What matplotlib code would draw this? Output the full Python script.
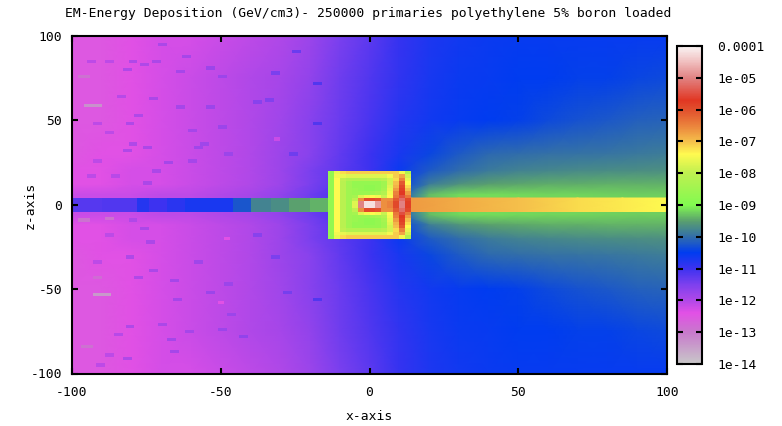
import numpy as np
import matplotlib
matplotlib.use("Agg")
import matplotlib.pyplot as plt
from matplotlib.colors import LinearSegmentedColormap

plt.rcParams['font.family'] = ['DejaVu Sans Mono']
plt.rcParams['font.size'] = 9.4

# all values are log10(GeV/cm3)

# background, upper half (mirrored around z=0)
bg_x = np.arange(-100, 101, 10)
bg_z = [100, 75, 50, 30, 20, 12, 6]
bg_100 = [-12.5, -12.5, -12.4, -12.3, -12.3, -12.2, -12.1, -12.0, -11.8, -11.5, -11.25, -10.95, -10.75, -10.65, -10.6, -10.55, -10.55, -10.55, -10.55, -10.55, -10.55]
bg_75 = [-12.5, -12.5, -12.4, -12.3, -12.2, -12.1, -12.0, -11.9, -11.7, -11.4, -11.15, -10.9, -10.7, -10.6, -10.55, -10.5, -10.5, -10.45, -10.45, -10.4, -10.35]
bg_50 = [-12.5, -12.5, -12.4, -12.3, -12.2, -12.1, -12.0, -11.85, -11.6, -11.35, -11.1, -10.8, -10.65, -10.55, -10.5, -10.45, -10.35, -10.28, -10.22, -10.15, -10.1]
bg_30 = [-12.5, -12.4, -12.4, -12.3, -12.2, -12.1, -12.0, -11.8, -11.6, -11.3, -11.0, -10.7, -10.4, -10.2, -10.05, -10.0, -9.97, -9.95, -9.92, -9.88, -9.85]
bg_20 = [-12.4, -12.4, -12.3, -12.3, -12.2, -12.1, -12.0, -11.8, -11.5, -11.25, -11.0, -10.6, -10.2, -10.0, -9.87, -9.8, -9.75, -9.72, -9.7, -9.68, -9.65]
bg_12 = [-12.4, -12.4, -12.3, -12.3, -12.2, -12.1, -12.0, -11.8, -11.5, -11.2, -10.9, -10.5, -9.85, -9.62, -9.5, -9.45, -9.42, -9.42, -9.4, -9.4, -9.4]
bg_6 = [-12.2, -12.2, -12.2, -12.1, -12.1, -12.0, -11.9, -11.7, -11.4, -11.1, -10.8, -10.3, -9.35, -9.18, -9.17, -9.18, -9.2, -9.2, -9.22, -9.25, -9.25]

# beam left of the box
beam_left_edges = [-100, -90, -78, -74, -68, -62, -46, -40, -33, -27, -20, -14]
beam_left = [-11.2, -11.15, -10.8, -11.0, -10.85, -10.7, -10.25, -9.8, -9.7, -9.5, -9.4]

# beam right of the box
beam_right_x = [14, 30, 50, 70, 85, 100]
beam_right = [-6.7, -6.85, -7.0, -7.2, -7.3, -7.4]

# box, upper half, top row first
box_edges_x = np.arange(-14, 15, 2)
box_edges_z = np.arange(-20, 21, 2)
box_rows = [
    [-8.7, -7.6, -7.2, -7.1, -7.1, -7.1, -7.1, -7.1, -7.1, -7.1, -7.1, -7.1, -7.5, -8.2],
    [-8.7, -7.5, -7.6, -7.7, -7.7, -7.7, -7.7, -7.7, -7.7, -7.7, -7.5, -7.1, -6.8, -7.8],
    [-8.7, -7.4, -8.0, -8.2, -8.2, -8.2, -8.2, -8.2, -8.2, -8.1, -7.8, -7.2, -6.5, -7.6],
    [-8.7, -7.4, -8.1, -8.5, -8.7, -8.7, -8.7, -8.7, -8.7, -8.5, -7.8, -7.0, -6.1, -7.4],
    [-8.7, -7.4, -8.1, -8.5, -8.7, -8.7, -8.8, -8.8, -8.7, -8.5, -7.7, -6.9, -5.9, -7.2],
    [-8.7, -7.4, -8.1, -8.5, -8.6, -8.7, -8.8, -8.8, -8.7, -8.4, -7.6, -6.7, -5.8, -7.0],
    [-8.7, -7.4, -8.1, -8.5, -8.6, -8.6, -8.6, -8.5, -8.4, -8.2, -7.5, -6.5, -5.7, -6.7],
    [-8.7, -7.4, -8.1, -8.5, -8.4, -7.7, -7.5, -7.4, -7.5, -7.9, -7.4, -6.4, -5.5, -6.4],
    [-8.7, -7.4, -8.1, -8.5, -8.0, -6.6, -5.9, -5.9, -6.0, -6.6, -6.6, -6.1, -5.2, -5.9],
    [-8.7, -7.4, -8.1, -8.5, -7.7, -5.0, -4.2, -4.2, -4.8, -6.6, -6.5, -5.9, -5.0, -5.8],
]

speck_x = [-95, -89, -81, -73, -83, -77, -65, -63, -55, -51, -71, -74, -85, -65, -55, -82, -79, -93, -89, -61,
           -51, -59, -57, -76, -81, -93, -83, -69, -95, -87, -76, -49, -61, -73, -39, -35, -27, -19, -19, -26, -33,
           -81, -77, -75, -89, -82, -93, -59, -74, -67, -79, -49, -55, -66, -82, -71, -86, -62, -68, -51, -44,
           -89, -83, -92, -67, -39, -33, -29, -19, -48]
speck_z = [85, 85, 85, 85, 80, 83, 79, 88, 81, 76, 95, 63, 64, 58, 58, 48, 53, 48, 43, 44,
           46, 34, 36, 34, 36, 26, 32, 25, 17, 17, 13, 30, 26, 20, 61, 62, 30, 48, 72, 91, 78,
           -9, -14, -22, -18, -31, -34, -34, -39, -45, -43, -47, -52, -56, -72, -71, -77, -75, -80, -74, -78,
           -89, -91, -95, -87, -18, -31, -52, -56, -65]
speck_val = [-12.1, -12.1, -12.0, -11.95, -12.0, -12.0, -11.9, -11.9, -11.8, -11.8, -11.95, -11.95, -12.05, -11.9, -11.8, -12.0, -12.0, -12.1, -12.1, -11.9,
             -11.8, -11.85, -11.85, -11.95, -12.0, -12.1, -12.0, -11.9, -12.1, -12.05, -11.95, -11.8, -11.9, -11.95, -11.6, -11.55, -11.4, -11.15, -11.15, -11.35, -11.5,
             -12.0, -11.95, -11.95, -12.1, -12.0, -12.1, -11.85, -11.95, -11.9, -12.0, -11.8, -11.8, -11.9, -12.0, -11.95, -12.05, -11.9, -11.9, -11.8, -11.7,
             -12.1, -12.0, -12.1, -11.9, -11.6, -11.5, -11.45, -11.15, -11.8]

# paler cells, mostly at the far left
pale_x = [-96, -98, -93, -98, -89, -97, -93, -49, -51, -32]
pale_z = [59, 76, -53, -9, -8, -84, -43, -20, -58, 39]
pale_w = [6, 4, 6, 4, 3, 4, 3, 2, 2, 2]
pale_val = [-13.3, -12.9, -13.4, -12.9, -12.9, -12.9, -12.8, -12.4, -12.4, -12.2]

xticks = [-100, -50, 0, 50, 100]
yticks = [-100, -50, 0, 50, 100]
cb_ticks = [-4, -5, -6, -7, -8, -9, -10, -11, -12, -13, -14]
cb_labels = ["0.0001", "1e-05", "1e-06", "1e-07", "1e-08", "1e-09", "1e-10", "1e-11", "1e-12", "1e-13", "1e-14"]

# palette
pal_val = [-14, -13, -12.4, -12, -11.5, -11, -10.5, -10, -9.5, -9, -8, -7.4, -7, -6.5, -6, -5.7, -5, -4.5, -4]
pal_col = ["#c8c8c8", "#c878cc", "#e250e6", "#b048e8", "#7c40ee", "#3c32f0", "#003cf0", "#326eaa", "#5aa06e",
           "#82fa50", "#bef050", "#fffa50", "#f5c04b", "#eb823c", "#e1502d", "#e13723", "#e18282", "#f0bebe", "#faf5f5"]
cmap = LinearSegmentedColormap.from_list("pal", [((v + 14) / 10, c) for v, c in zip(pal_val, pal_col)], N=512)
opts = dict(cmap=cmap, vmin=-14, vmax=-4)

fig = plt.figure(figsize=(7.82, 4.26), dpi=100)
ax = fig.add_axes([72 / 782, 1 - 373.5 / 426, 595 / 782, 337.5 / 426])

# background
upper = np.array([bg_100, bg_75, bg_50, bg_30, bg_20, bg_12, bg_6])
bg = np.vstack([upper, upper[::-1]])
bg_zz = bg_z + [-z for z in bg_z[::-1]]
m = ax.pcolormesh(bg_x, bg_zz, bg, shading='gouraud', zorder=1, **opts)

for x, z, v in zip(speck_x, speck_z, speck_val):
    ax.pcolormesh([x, x + 3], [z - 1, z + 1], [[v]], zorder=1.5, **opts)
for x, z, w, v in zip(pale_x, pale_z, pale_w, pale_val):
    ax.pcolormesh([x, x + w], [z - 1, z + 1], [[v]], zorder=1.6, **opts)

# beam
ax.pcolormesh(beam_left_edges, [-4, 4], [beam_left], zorder=2, **opts)
ax.pcolormesh(beam_right_x, [-4, 4], [beam_right, beam_right], shading='gouraud', zorder=2, **opts)

# box
box = np.vstack([box_rows, box_rows[::-1]])[::-1]
ax.pcolormesh(box_edges_x, box_edges_z, box, zorder=3, **opts)

ax.set_xlim(-100, 100)
ax.set_ylim(-100, 100)
ax.set_xticks(xticks, [str(t) for t in xticks])
ax.set_yticks(yticks, [str(t) for t in yticks])
ax.tick_params(direction='in', top=True, right=True, length=4.5, width=1.5)
ax.tick_params(axis='x', pad=9)
ax.tick_params(axis='y', pad=7)
for s in ax.spines.values():
    s.set_linewidth(1.5)
ax.set_axisbelow(False)

fig.text(368 / 782, 1 - 14 / 426, "EM-Energy Deposition (GeV/cm3)- 250000 primaries polyethylene 5% boron loaded", ha='center', va='center')
fig.text(369 / 782, 1 - 417 / 426, "x-axis", ha='center', va='center')
fig.text(30 / 782, 1 - 205 / 426, "z-axis", ha='center', va='center', rotation=90)

# colour box
cax = fig.add_axes([677 / 782, 1 - 364 / 426, 25 / 782, 318 / 426])
cb = fig.colorbar(m, cax=cax)
cb.set_ticks(cb_ticks, labels=cb_labels)
cax.tick_params(direction='in', left=True, right=True, length=4, width=1.5, pad=11)
cb.outline.set_linewidth(1.5)

fig.savefig("out.png", dpi=100)
